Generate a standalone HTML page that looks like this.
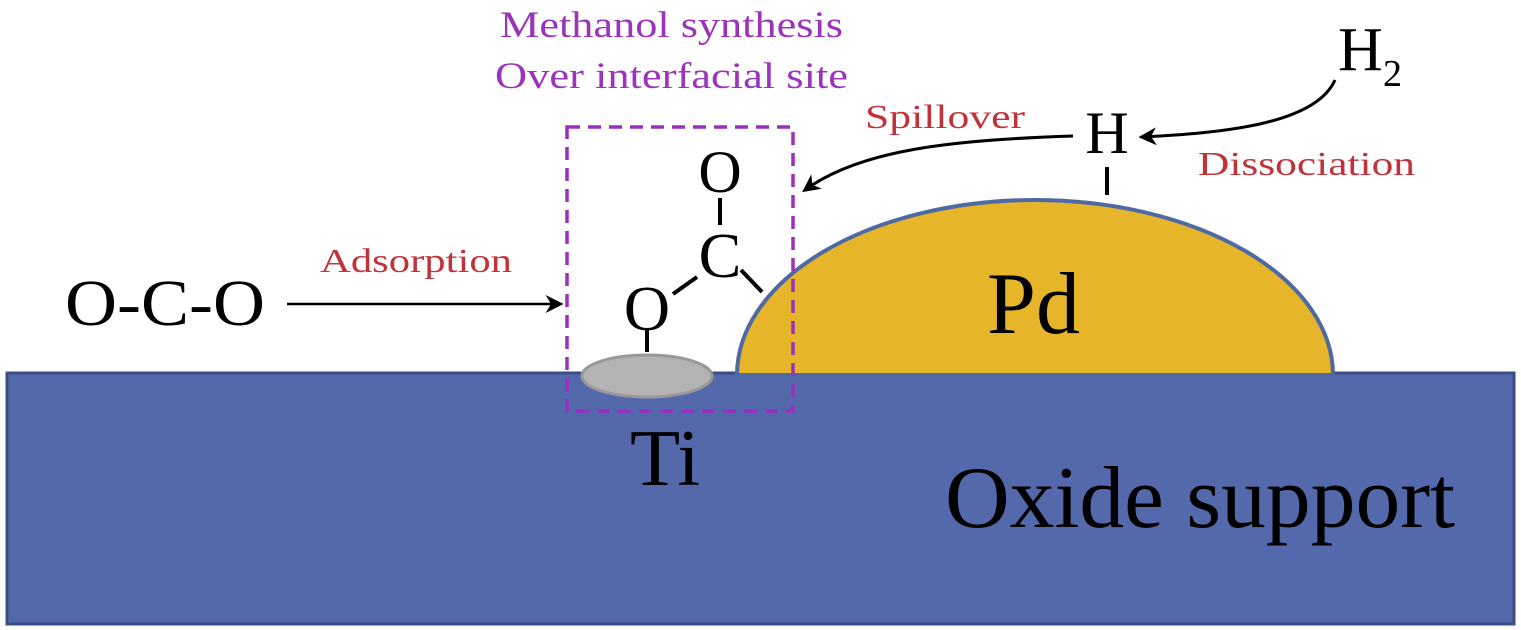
<!DOCTYPE html>
<html><head><meta charset="utf-8"><style>
html,body{margin:0;padding:0;background:#fff;}
svg{display:block;}
text{font-family:"Liberation Serif",serif;}
</style></head><body>
<svg width="1521" height="630" viewBox="0 0 1521 630" xmlns="http://www.w3.org/2000/svg">
<defs>
<marker id="ah2" viewBox="0 0 10 10" markerWidth="18" markerHeight="18" refX="8" refY="5" orient="auto" markerUnits="userSpaceOnUse">
<path d="M0,0 L10,5 L0,10 L3,5 Z" fill="#000"/>
</marker>
</defs>
<rect x="7" y="373" width="1507" height="251" fill="#5469ab" stroke="#3a4d85" stroke-width="3"/>
<path d="M737,375 A298,175 0 0 1 1333,375 Z" fill="#e6b52a" stroke="#4f6aa2" stroke-width="4"/>
<ellipse cx="647" cy="376" rx="65" ry="21" fill="#b3b3b3" stroke="#999" stroke-width="3"/>
<rect x="567" y="127" width="226" height="284" fill="none" stroke="#9a2fc0" stroke-width="3.5" stroke-dasharray="13,8"/>
<text x="500" y="37" font-size="37" fill="#9b33bb" textLength="343" lengthAdjust="spacingAndGlyphs">Methanol  synthesis</text>
<text x="495" y="88" font-size="37" fill="#9b33bb" textLength="353" lengthAdjust="spacingAndGlyphs">Over  interfacial  site</text>
<text x="320" y="272" font-size="34" fill="#c0333a" textLength="192" lengthAdjust="spacingAndGlyphs">Adsorption</text>
<text x="865" y="128" font-size="34" fill="#c0333a" textLength="160" lengthAdjust="spacingAndGlyphs">Spillover</text>
<text x="1198" y="175" font-size="34" fill="#c0333a" textLength="217" lengthAdjust="spacingAndGlyphs">Dissociation</text>
<text x="65" y="325" font-size="66" fill="#000" textLength="200" lengthAdjust="spacingAndGlyphs">O‑C‑O</text>
<line x1="287" y1="304" x2="560" y2="304" stroke="#000" stroke-width="2.5" marker-end="url(#ah2)"/>
<text x="720" y="192" font-size="60" fill="#000" text-anchor="middle">O</text>
<line x1="720" y1="198" x2="720" y2="225" stroke="#000" stroke-width="4"/>
<text x="720" y="277" font-size="64" fill="#000" text-anchor="middle">C</text>
<line x1="741" y1="270" x2="762" y2="292" stroke="#000" stroke-width="4"/>
<line x1="673" y1="294" x2="697" y2="277" stroke="#000" stroke-width="4"/>
<text x="647" y="330" font-size="64" fill="#000" text-anchor="middle">O</text>
<line x1="647" y1="330" x2="647" y2="352" stroke="#000" stroke-width="4"/>
<text x="1107" y="153" font-size="60" fill="#000" text-anchor="middle">H</text>
<line x1="1107" y1="167" x2="1107" y2="195" stroke="#000" stroke-width="4"/>
<text x="1338" y="70" font-size="62" fill="#000">H</text>
<text x="1383" y="86" font-size="38" fill="#000">2</text>
<path d="M1335,80 C1315,125 1220,133 1142,137" fill="none" stroke="#000" stroke-width="3" marker-end="url(#ah2)"/>
<path d="M1073,136 C950,140 860,150 805,190" fill="none" stroke="#000" stroke-width="3" marker-end="url(#ah2)"/>
<text x="987" y="333" font-size="88" fill="#000" textLength="93" lengthAdjust="spacingAndGlyphs">Pd</text>
<text x="630" y="485" font-size="80" fill="#000" textLength="70" lengthAdjust="spacingAndGlyphs">Ti</text>
<text x="945" y="527" font-size="88" fill="#000" textLength="510" lengthAdjust="spacingAndGlyphs">Oxide support</text>
</svg>
</body></html>
